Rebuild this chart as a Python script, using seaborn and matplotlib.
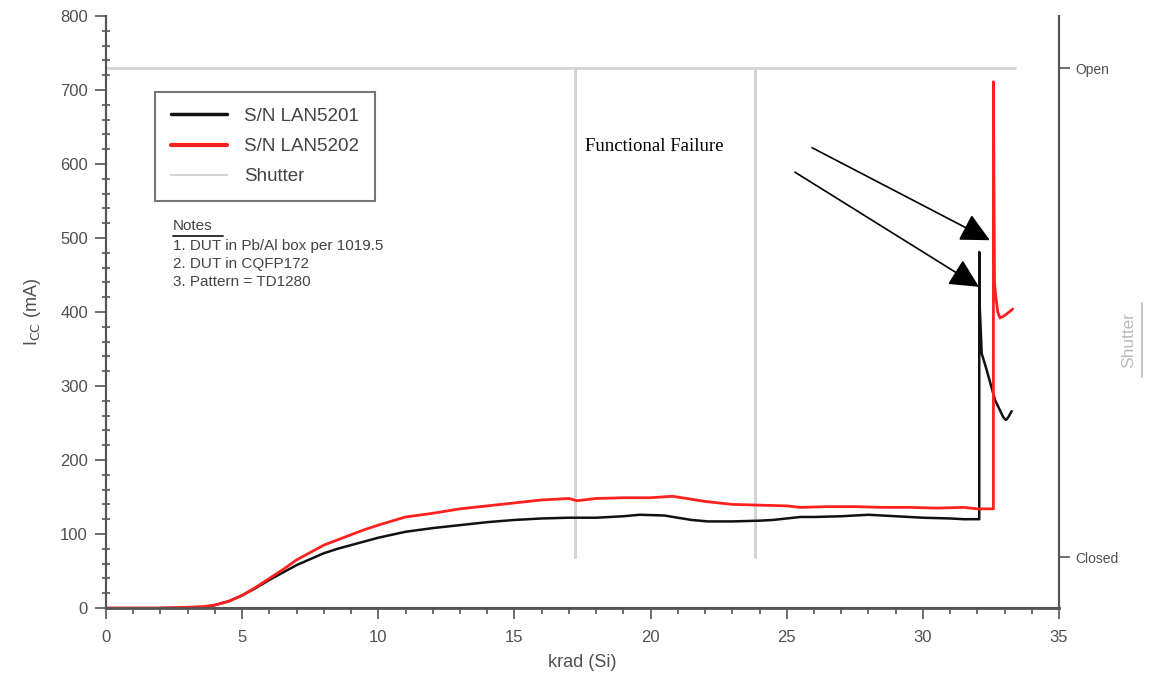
import numpy as np
import pandas as pd
import seaborn as sns
import matplotlib
matplotlib.use("Agg")
import matplotlib.pyplot as plt
from matplotlib.lines import Line2D
from matplotlib.ticker import MultipleLocator

# ---------------- data ----------------
x_5201 = [2.0, 3.0, 3.6, 4.0, 4.5, 5.0, 5.5, 6.0, 6.5, 7.0, 7.5, 8.0, 8.5, 9.0, 9.5,
          10.0, 11.0, 12.0, 13.0, 14.0, 15.0, 16.0, 17.0, 18.0, 19.0, 19.6, 20.5,
          21.0, 21.5, 22.1, 23.0, 24.0, 24.5, 25.5, 26.0, 27.0, 28.0, 28.5, 29.0,
          30.0, 31.0, 31.5, 32.07, 32.07, 32.09, 32.16, 32.34, 32.65, 32.95, 33.05,
          33.14, 33.26]
y_5201 = [0, 0, 1, 4, 9, 17, 27, 38, 48, 58, 66, 74, 80, 85, 90,
          95, 103, 108, 112, 116, 119, 121, 122, 122, 124, 126, 125,
          122, 119, 117, 117, 118, 119, 123, 123, 124, 126, 125, 124,
          122, 121, 120, 120, 481, 405, 344, 322, 281, 258, 254,
          258, 266]

x_5202 = [0.0, 2.0, 3.0, 3.6, 4.0, 4.5, 5.0, 5.5, 6.0, 6.5, 7.0, 7.5, 8.0, 8.5, 9.0,
          9.5, 10.0, 11.0, 12.0, 13.0, 14.0, 15.0, 16.0, 17.0, 17.3, 18.0, 19.0,
          20.0, 20.8, 21.5, 22.0, 23.0, 24.0, 25.0, 25.5, 26.5, 27.5, 28.5, 29.5,
          30.5, 31.5, 32.0, 32.59, 32.59, 32.63, 32.68, 32.75, 32.83, 32.95, 33.1,
          33.3]
y_5202 = [0, 0, 1, 2, 4, 9, 17, 28, 40, 52, 65, 75, 85, 92, 99,
          106, 112, 123, 128, 134, 138, 142, 146, 148, 145, 148, 149,
          149, 151, 147, 144, 140, 139, 138, 136, 137, 137, 136, 136,
          135, 136, 134, 134, 711, 440, 420, 400, 392, 394, 398,
          404]

x_shutter = [0.0, 17.22, 17.22, 17.22, 23.83, 23.83, 23.83, 33.4]
y_shutter = [1, 1, 0, 1, 1, 0, 1, 1]

series_names = ["S/N LAN5201", "S/N LAN5202", "Shutter"]
series_colors = ["#111111", "#ff2020", "#d4d4d4"]

shutter_ticks = [0, 1]
shutter_labels = ["Closed", "Open"]

notes_lines = ["1. DUT in Pb/Al box per 1019.5", "2. DUT in CQFP172", "3. Pattern = TD1280"]

df_icc = pd.concat([
    pd.DataFrame({"krad": x_5201, "icc": y_5201, "dev": series_names[0]}),
    pd.DataFrame({"krad": x_5202, "icc": y_5202, "dev": series_names[1]}),
])
df_sh = pd.DataFrame({"krad": x_shutter, "state": y_shutter})

# ---------------- figure ----------------
sns.set_theme(style="white")
plt.rcParams["font.family"] = ["Liberation Sans", "DejaVu Sans"]

fig = plt.figure(figsize=(11.51, 6.83), dpi=100)
ax = fig.add_axes([0.0921, 0.1098, 0.828, 0.8668])
ax2 = ax.twinx()

sns.lineplot(data=df_sh, x="krad", y="state", ax=ax2, sort=False, estimator=None,
             color=series_colors[2], lw=2.0, legend=False)
ax.set_zorder(ax2.get_zorder() + 1)
ax.patch.set_visible(False)

sns.lineplot(data=df_icc[df_icc.dev == series_names[0]], x="krad", y="icc", ax=ax,
             sort=False, estimator=None, color=series_colors[0], lw=1.8, legend=False)
sns.lineplot(data=df_icc[df_icc.dev == series_names[1]], x="krad", y="icc", ax=ax,
             sort=False, estimator=None, color=series_colors[1], lw=2.0, legend=False)

ax.set_xlim(0, 35)
ax.set_ylim(0, 800)
ax2.set_ylim(-0.1043, 1.1065)

tick_col = "#505050"
spine_col = "#555555"
for a in (ax, ax2):
    for s in a.spines.values():
        s.set_color(spine_col)
        s.set_linewidth(1.5)
    a.spines["top"].set_visible(False)
ax.spines["bottom"].set_linewidth(2.0)

ax.xaxis.set_major_locator(MultipleLocator(5))
ax.xaxis.set_minor_locator(MultipleLocator(1))
ax.yaxis.set_major_locator(MultipleLocator(100))
ax.yaxis.set_minor_locator(MultipleLocator(20))
ax.tick_params(axis="both", which="major", direction="out", length=8, width=1.2,
               color=spine_col, labelsize=12, labelcolor=tick_col, left=True, bottom=True)
ax.tick_params(axis="both", which="minor", direction="out", length=4, width=1.2,
               color=spine_col, left=True, bottom=True)
ax.tick_params(axis="y", which="minor", direction="inout", length=6)
ax.tick_params(axis="x", pad=8)
ax.tick_params(axis="y", pad=5)

ax2.set_yticks(shutter_ticks)
ax2.set_yticklabels(shutter_labels)
ax2.tick_params(axis="y", direction="out", length=8, width=1.2, color=spine_col,
                labelsize=10, labelcolor=tick_col, right=True)
ax2.set_ylabel("")

ax.set_xlabel("krad (Si)", fontsize=13, color=tick_col, labelpad=6)
ax.set_ylabel(r"I$_{\rm CC}$ (mA)", fontsize=13, color=tick_col, labelpad=12)

# right axis label with underline
fig.text(0.981, 0.502, "Shutter", rotation=90, fontsize=12.5, color="#bbbbbb",
         ha="center", va="center")
fig.add_artist(Line2D([0.9925, 0.9925], [0.448, 0.556], color="#bbbbbb", lw=1.2))

# legend
handles = [Line2D([], [], color=series_colors[0], lw=2.5),
           Line2D([], [], color=series_colors[1], lw=3.0),
           Line2D([], [], color=series_colors[2], lw=1.5)]
leg = ax.legend(handles, series_names, loc="upper left", bbox_to_anchor=(0.051, 0.872),
                fontsize=13.5, frameon=True, fancybox=False, handlelength=3.0,
                borderpad=0.85, labelspacing=0.7, handletextpad=0.9, borderaxespad=0)
leg.get_frame().set_edgecolor(spine_col)
leg.get_frame().set_linewidth(1.5)
for t in leg.get_texts():
    t.set_color("#444444")

# notes
ax.text(0.0703, 0.645, "Notes", transform=ax.transAxes, fontsize=11, color="#444444",
        ha="left", va="center")
ax.plot([0.0703, 0.123], [0.628, 0.628], transform=ax.transAxes, color="#222222", lw=1.3)
for i, line in enumerate(notes_lines):
    ax.text(0.0703, 0.6115 - 0.0304 * i, line, transform=ax.transAxes, fontsize=11,
            color="#444444", ha="left", va="center")

# annotation
ax.text(17.6, 623, "Functional Failure", fontsize=13.5, family=["Liberation Serif", "DejaVu Serif"],
        color="black", ha="left", va="center")
arrow_kw = dict(arrowstyle="-|>,head_length=0.9,head_width=0.45", color="black", lw=1.2,
                shrinkA=0, shrinkB=0, mutation_scale=20)
ax.annotate("", xy=(32.46, 497), xytext=(25.93, 622), arrowprops=arrow_kw)
ax.annotate("", xy=(32.06, 434), xytext=(25.3, 589), arrowprops=arrow_kw)

fig.savefig("out.png", dpi=100)
